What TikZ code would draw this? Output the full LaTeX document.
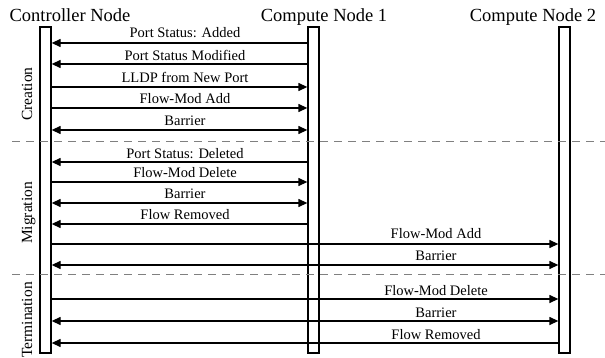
\documentclass[tikz,border=0pt]{standalone}
\usepackage{fontspec}
\setmainfont{Liberation Serif}
\usetikzlibrary{arrows.meta}
\begin{document}
\begin{tikzpicture}[x=1pt,y=-1pt,
  lifeline/.style={draw, fill=white, line width=1.3pt, minimum width=11pt,
                   minimum height=326pt, inner sep=0pt},
  header/.style={font=\fontsize{18.5}{20}\selectfont, anchor=base, inner sep=0pt},
  phase/.style={font=\fontsize{15.5}{16}\selectfont, rotate=90, anchor=base, inner sep=0pt},
  msg/.style={line width=1.3pt},
  msglabel/.style={font=\fontsize{14.5}{15}\selectfont, anchor=base, inner sep=0pt},
  sep/.style={gray, dash pattern=on 8pt off 6pt, line width=0.9pt},
  >={Triangle[length=9pt,width=8pt]}]
\useasboundingbox (0,0) rectangle (605,358);

% headers
\node[header] (hctrl) at (70,22)  {Controller Node};
\node[header] (hcn1)  at (324,22) {Compute Node 1};
\node[header] (hcn2)  at (533,22) {Compute Node 2};

% lifelines
\node[lifeline] (ctrl) at (45.5,190) {};
\node[lifeline] (cn1)  at (313.5,190) {};
\node[lifeline] (cn2)  at (564.5,190) {};

% phase names
\node[phase] (pcre) at (32,94)  {Creation};
\node[phase] (pmig) at (32,213) {Migration};
\node[phase] (pter) at (32,320) {Termination};

% creation
\draw[msg,<-]  (ctrl.east |- 0,43)  -- (cn1.west |- 0,43);
\node[msglabel] (l1) at (185,38) {Port Status: Added};
\draw[msg,<-]  (ctrl.east |- 0,64)  -- (cn1.west |- 0,64);
\node[msglabel] (l2) at (185,61) {Port Status Modified};
\draw[msg,->]  (ctrl.east |- 0,87)  -- (cn1.west |- 0,87);
\node[msglabel] (l3) at (185,83) {LLDP from New Port};
\draw[msg,->]  (ctrl.east |- 0,108) -- (cn1.west |- 0,108);
\node[msglabel] (l4) at (185,104) {Flow-Mod Add};
\draw[msg,<->] (ctrl.east |- 0,130) -- (cn1.west |- 0,130);
\node[msglabel] (l5) at (185,126) {Barrier};

% migration
\draw[msg,<-]  (ctrl.east |- 0,162) -- (cn1.west |- 0,162);
\node[msglabel] (l6) at (185,159) {Port Status: Deleted};
\draw[msg,->]  (ctrl.east |- 0,182) -- (cn1.west |- 0,182);
\node[msglabel] (l7) at (185,178) {Flow-Mod Delete};
\draw[msg,<->] (ctrl.east |- 0,203) -- (cn1.west |- 0,203);
\node[msglabel] (l8) at (185,199) {Barrier};
\draw[msg,<-]  (ctrl.east |- 0,224) -- (cn1.west |- 0,224);
\node[msglabel] (l9) at (185,220) {Flow Removed};
\draw[msg,->]  (ctrl.east |- 0,244) -- (cn2.west |- 0,244);
\node[msglabel] (l10) at (436,239) {Flow-Mod Add};
\draw[msg,<->] (ctrl.east |- 0,265) -- (cn2.west |- 0,265);
\node[msglabel] (l11) at (436,261) {Barrier};

% termination
\draw[msg,->]  (ctrl.east |- 0,299) -- (cn2.west |- 0,299);
\node[msglabel] (l12) at (436,295) {Flow-Mod Delete};
\draw[msg,<->] (ctrl.east |- 0,321) -- (cn2.west |- 0,321);
\node[msglabel] (l13) at (436,317) {Barrier};
\draw[msg,<-]  (ctrl.east |- 0,343) -- (cn2.west |- 0,343);
\node[msglabel] (l14) at (436,339) {Flow Removed};

% phase separators
\coordinate (s1a) at (12,141);  \coordinate (s1b) at (605,141);
\coordinate (s2a) at (12,274);  \coordinate (s2b) at (605,274);
\draw[sep] (s1a) -- (s1b);
\draw[sep] (s2a) -- (s2b);
\end{tikzpicture}
\end{document}
